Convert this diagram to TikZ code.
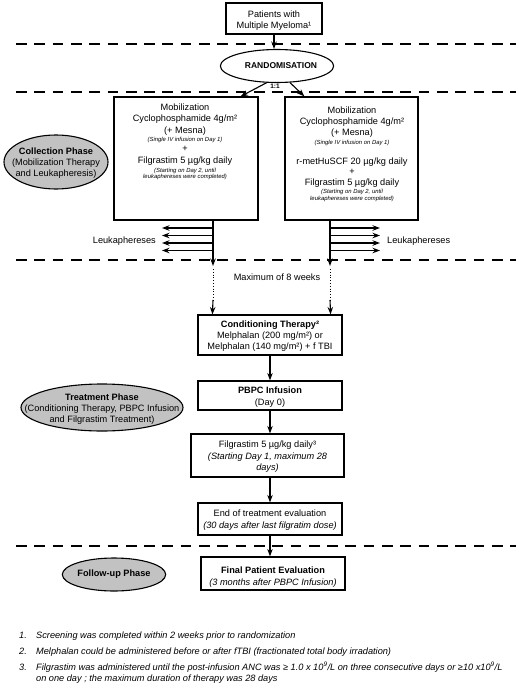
\documentclass[tikz,border=0pt]{standalone}
\usepackage{fontspec}
\setmainfont{Liberation Sans}
\usetikzlibrary{arrows.meta,shapes.geometric}
\newcommand{\fMain}{\fontsize{9.2}{11}\selectfont}
\newcommand{\fSmall}{\fontsize{5.9}{7}\selectfont\itshape}
\newcommand{\fFoot}{\fontsize{9.2}{11}\selectfont\itshape}
\begin{document}
\begin{tikzpicture}[x=1pt,y=-1pt,
  box/.style={draw, line width=1.2pt, inner sep=0pt},
  phase/.style={ellipse, draw, line width=1.1pt, fill=black!24, inner sep=0pt},
  sepline/.style={line width=2.2pt, dash pattern=on 10.7pt off 7.6pt},
  arr/.style={line width=1.1pt, -{Stealth[length=7.5pt,width=5.5pt]}},
  dotln/.style={line width=0.8pt, dash pattern=on 0.8pt off 2pt},
  t/.style={anchor=base, inner sep=0pt, font=\fMain},
  tb/.style={anchor=base, inner sep=0pt, font=\fMain\bfseries},
  ti/.style={anchor=base, inner sep=0pt, font=\fMain\itshape},
  ts/.style={anchor=base, inner sep=0pt, font=\fSmall},
  tf/.style={anchor=base west, inner sep=0pt, font=\fFoot},
  ptext/.style={align=center, inner sep=0pt, font=\fMain},
]
\useasboundingbox (0,0) rectangle (520,688);

% separators
\foreach \yy [count=\i] in {44,92,260,546}{
  \coordinate (sa\i) at (16,\yy);
  \coordinate (sb\i) at (516,\yy);
  \draw[sepline] (sa\i) -- (sb\i);
}

% top box
\node[box, minimum width=96pt, minimum height=31pt] (top) at (274,18.5) {};
\node[t] (top1) at (274,17) {Patients with};
\node[t] (top2) at (274,28) {Multiple Myeloma¹};

% randomisation
\node[ellipse, draw, line width=1.1pt, inner sep=0pt, minimum width=103pt, minimum height=33pt,
      font=\fontsize{8.5}{10}\selectfont\bfseries] (rand) at (277,66) {\hspace*{8pt}RANDOMISATION};
\draw[arr] (top.south) -- (top.south |- rand.north);
\node[inner sep=0pt, font=\fontsize{6.5}{8}\selectfont\bfseries] (ratio) at (275,86) {1:1};

% mobilisation boxes
\node[box, minimum width=144pt, minimum height=123pt] (L) at (186,158.5) {};
\node[box, minimum width=133pt, minimum height=123pt] (R) at (351.5,158.5) {};
\draw[arr] (rand.-122) -- ([xshift=-18pt]L.north east);
\draw[arr] (rand.-52) -- ([xshift=20pt]R.north west);

\node[t]  (l1) at (185,110) {Mobilization};
\node[t]  (l2) at (185,121.5) {Cyclophosphamide 4g/m²};
\node[t]  (l3) at (185,133) {(+ Mesna)};
\node[ts] (l4) at (185,141.5) {(Single IV infusion on Day 1)};
\node[t]  (l5) at (185,151.5) {+};
\node[t]  (l6) at (185,163) {Filgrastim 5 µg/kg daily};
\node[ts] (l7) at (185,172) {(Starting on Day 2, until};
\node[ts] (l8) at (185,178.5) {leukaphereses were completed)};

\node[t]  (r1) at (352,113) {Mobilization};
\node[t]  (r2) at (352,124.5) {Cyclophosphamide 4g/m²};
\node[t]  (r3) at (352,135) {(+ Mesna)};
\node[ts] (r4) at (352,144) {(Single IV infusion on Day 1)};
\node[t]  (r5) at (352,164) {r-metHuSCF 20 µg/kg daily};
\node[t]  (r6) at (352,174) {+};
\node[t]  (r7) at (352,185) {Filgrastim 5 µg/kg daily};
\node[ts] (r8) at (352,193) {(Starting on Day 2, until};
\node[ts] (r9) at (352,200) {leukaphereses were completed)};

% collection phase
\node[phase, minimum width=104pt, minimum height=54pt] (coll) at (56,162) {};
\node[ptext] (colltxt) at (56,163) {\textbf{Collection Phase}\\(Mobilization Therapy\\and Leukapheresis)};

% conditioning box
\node[box, minimum width=144pt, minimum height=40pt] (C) at (270,335) {};

% leukapheresis lines
\coordinate (lA) at ([xshift=27pt]L.south);
\coordinate (lB) at (213,266);
\coordinate (lC) at (213,269);
\coordinate (lD) at (213,300);
\coordinate (rA) at ([xshift=-21.5pt]R.south);
\coordinate (rB) at (330,266);
\coordinate (rC) at (330,269);
\coordinate (rD) at (330,300);
\draw[arr] (lA) -- (lB);
\draw[dotln] (lC) -- (lD);
\draw[arr] (lD) -- ([xshift=15pt]C.north west);
\draw[arr] (rA) -- (rB);
\draw[dotln] (rC) -- (rD);
\draw[arr] (rD) -- ([xshift=-12pt]C.north east);
\foreach \yy [count=\i] in {228,235.5,243,250.5}{
  \coordinate (ls\i) at (213,\yy);
  \coordinate (le\i) at (162,\yy);
  \coordinate (rs\i) at (330,\yy);
  \coordinate (re\i) at (380,\yy);
  \draw[arr] (ls\i) -- (le\i);
  \draw[arr] (rs\i) -- (re\i);
}
\node[anchor=base east, inner sep=0pt, font=\fMain] (leukL) at (156,243) {Leukaphereses};
\node[anchor=base west, inner sep=0pt, font=\fMain] (leukR) at (387,243) {Leukaphereses};
\node[t] (max8) at (277,280) {Maximum of 8 weeks};

% conditioning text
\node[tb] (c1) at (270,327) {Conditioning Therapy²};
\node[t]  (c2) at (270,338) {Melphalan (200 mg/m²) or};
\node[t]  (c3) at (270,349) {Melphalan (140 mg/m²) + f TBI};

% PBPC
\node[box, minimum width=144pt, minimum height=29pt] (P) at (270,395.5) {};
\node[tb] (p1) at (270,393) {PBPC Infusion};
\node[t]  (p2) at (270,405) {(Day 0)};
\draw[arr] (C.south) -- (C.south |- P.north);

% treatment phase
\node[phase, minimum width=162pt, minimum height=47pt] (treat) at (102,407.5) {};
\node[ptext] (treattxt) at (102,409) {\textbf{Treatment Phase}\\(Conditioning Therapy, PBPC Infusion\\and Filgrastim Treatment)};

% filgrastim
\node[box, minimum width=153pt, minimum height=43pt] (F) at (267.5,455.5) {};
\node[t]  (f1) at (267.5,447) {Filgrastim 5 µg/kg daily³};
\node[ti] (f2) at (267.5,459) {(Starting Day 1, maximum 28};
\node[ti] (f3) at (267.5,470) {days)};
\draw[arr] (P.south) -- (P.south |- F.north);

% end of treatment
\node[box, minimum width=144pt, minimum height=32pt] (E) at (270,519) {};
\node[t]  (e1) at (270,516) {End of treatment evaluation};
\node[ti] (e2) at (270,528) {(30 days after last filgratim dose)};
\draw[arr] (P.south |- F.south) -- (P.south |- E.north);

% final
\node[box, minimum width=144pt, minimum height=33pt] (G) at (273,573.5) {};
\node[tb] (g1) at (273,573) {Final Patient Evaluation};
\node[ti] (g2) at (273,585) {(3 months after PBPC Infusion)};
\draw[arr] (E.south) -- (E.south |- G.north);

% follow-up phase
\node[phase, minimum width=92pt, minimum height=33pt, font=\fMain\bfseries] (follow) at (114,574.5) {Follow-up Phase};

% footnotes
\node[tf] (n1) at (19,638) {1.};
\node[tf] (fn1) at (36,638) {Screening was completed within 2 weeks prior to randomization};
\node[tf] (n2) at (19,654) {2.};
\node[tf] (fn2) at (36,654) {Melphalan could be administered before or after fTBI (fractionated total body irradation)};
\node[tf] (n3) at (19,670) {3.};
\node[tf] (fn3) at (36,670) {Filgrastim was administered until the post-infusion ANC was ≥ 1.0 x 10\textsuperscript{9}/L on three consecutive days or ≥10 x10\textsuperscript{9}/L};
\node[tf] (fn3b) at (36,681) {on one day ; the maximum duration of therapy was 28 days};
\end{tikzpicture}
\end{document}
